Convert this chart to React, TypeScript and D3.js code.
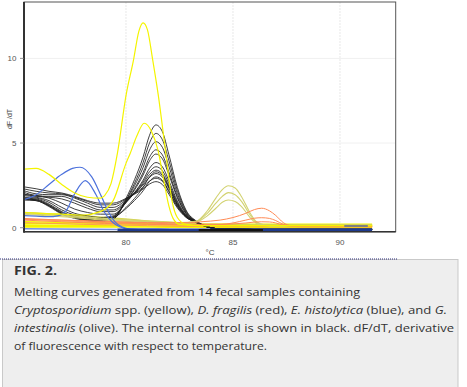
import React from 'react';
import * as d3 from 'd3';

const W = 467;
const H = 387;

const X_TICKS = [80, 85, 90];
const Y_TICKS = [0, 5, 10];

// Internal control (black)
const blackTemps = [75.2, 75.8, 76.4, 77.0, 77.6, 78.2, 78.8, 79.4, 80.0, 80.4, 80.8, 81.1, 81.4, 81.7, 82.0, 82.4, 82.8, 83.3, 83.8, 84.5, 86.0, 91.5];
const black1 = [2.42, 2.3, 2.15, 2.05, 1.85, 1.6, 1.45, 1.45, 1.73, 1.98, 2.29, 2.58, 2.72, 2.55, 1.99, 1.17, 0.61, 0.32, 0.05, -0.08, -0.1, -0.1];
const black2 = [2.3, 2.15, 2.05, 2.0, 1.8, 1.55, 1.35, 1.35, 1.7, 2.01, 2.39, 2.75, 2.92, 2.74, 2.13, 1.24, 0.64, 0.3, 0.04, -0.08, -0.1, -0.1];
const black3 = [2.2, 2.0, 1.95, 1.95, 1.75, 1.45, 1.2, 1.2, 1.64, 2.04, 2.52, 2.98, 3.2, 3.0, 2.33, 1.34, 0.68, 0.34, 0.06, -0.08, -0.1, -0.1];
const black4 = [2.1, 1.9, 1.85, 1.85, 1.6, 1.3, 1.05, 1.05, 1.57, 2.04, 2.6, 3.14, 3.4, 3.18, 2.47, 1.42, 0.7, 0.3, 0.05, -0.08, -0.1, -0.1];
const black5 = [2.0, 1.85, 1.8, 1.7, 1.45, 1.15, 0.95, 0.95, 1.53, 2.06, 2.7, 3.31, 3.6, 3.37, 2.61, 1.49, 0.73, 0.36, 0.06, -0.08, -0.1, -0.1];
const black6 = [1.9, 1.8, 1.6, 1.2, 0.85, 0.7, 0.6, 0.7, 1.5, 2.23, 3.11, 3.95, 4.35, 4.07, 3.14, 1.76, 0.83, 0.32, 0.05, -0.08, -0.1, -0.1];
const black7 = [1.8, 1.75, 1.5, 1.05, 0.75, 0.6, 0.55, 0.65, 1.52, 2.31, 3.26, 4.17, 4.6, 4.3, 3.31, 1.85, 0.86, 0.35, 0.06, -0.08, -0.1, -0.1];
const black8 = [1.75, 1.7, 1.4, 0.95, 0.65, 0.5, 0.45, 0.6, 1.59, 2.48, 3.56, 4.59, 5.08, 4.75, 3.65, 2.02, 0.92, 0.33, 0.05, -0.08, -0.1, -0.1];
const black9 = [1.7, 1.65, 1.3, 0.85, 0.6, 0.45, 0.4, 0.5, 1.62, 2.63, 3.85, 5.01, 5.57, 5.2, 3.99, 2.2, 0.99, 0.36, 0.06, -0.08, -0.1, -0.1];
const black10 = [1.65, 1.6, 1.25, 0.8, 0.55, 0.42, 0.38, 0.5, 1.73, 2.84, 4.18, 5.46, 6.07, 5.67, 4.34, 2.38, 1.05, 0.38, 0.06, -0.08, -0.1, -0.1];
const black11 = [1.7, 1.65, 1.35, 0.9, 0.6, 0.5, 0.5, 0.6, 1.19, 1.73, 2.38, 3.0, 3.3, 3.09, 2.4, 1.38, 0.69, 0.3, 0.04, -0.08, -0.1, -0.1];
const black12 = [1.65, 1.6, 1.3, 0.85, 0.6, 0.5, 0.5, 0.6, 1.13, 1.61, 2.18, 2.74, 3.0, 2.81, 2.19, 1.27, 0.65, 0.28, 0.04, -0.08, -0.1, -0.1];
const black13 = [1.95, 1.9, 1.75, 1.45, 1.1, 0.9, 0.8, 0.8, 1.47, 2.08, 2.81, 3.51, 3.85, 3.6, 2.79, 1.58, 0.76, 0.34, 0.05, -0.08, -0.1, -0.1];

// Cryptosporidium (yellow)
const yellowBigTemps = [75.2, 75.8, 76.4, 77.0, 77.6, 78.2, 78.8, 79.0, 79.3, 79.6, 80.0, 80.35, 80.6, 80.8, 81.0, 81.25, 81.5, 81.85, 82.15, 82.4, 82.8, 83.5, 91.5];
const yellowBig = [3.45, 3.5, 3.15, 2.55, 2.05, 1.8, 1.75, 1.9, 2.6, 4.4, 7.8, 9.9, 11.6, 12.1, 11.7, 9.9, 7.9, 4.5, 1.6, 0.6, 0.2, 0.12, 0.12];
const yellowMidTemps = [75.2, 76.0, 77.0, 78.0, 78.8, 79.4, 80.0, 80.2, 80.5, 80.85, 81.2, 81.5, 81.75, 82.0, 82.2, 82.5, 83.5, 91.5];
const yellowMid = [0.9, 0.85, 0.8, 0.75, 0.95, 1.6, 3.8, 4.4, 5.4, 6.17, 5.67, 4.55, 2.9, 1.3, 0.55, 0.2, 0.12, 0.12];

// Flat baselines
const flatTemps = [75.2, 78.0, 81.0, 84.0, 87.0, 91.5];
const yellowFlat1 = [0.35, 0.3, 0.25, 0.2, 0.2, 0.2];
const yellowFlat2 = [0.25, 0.22, 0.2, 0.16, 0.15, 0.15];
const yellowFlat3 = [0.15, 0.12, 0.1, 0.08, 0.08, 0.08];
const yellowFlat4 = [0.05, 0.05, 0.04, 0.03, 0.03, 0.03];
const yellowFlat5 = [0.9, 0.7, 0.4, 0.2, 0.17, 0.17];
const orangeFlat1 = [0.5, 0.35, 0.22, 0.15, 0.1, 0.1];
const orangeFlat2 = [0.3, 0.2, 0.12, 0.06, 0.05, 0.05];

// E. histolytica (blue)
const blue1Temps = [75.2, 75.8, 76.4, 77.0, 77.5, 77.85, 78.4, 78.85, 79.2, 79.5, 79.8, 80.2, 81.5, 84.0, 91.5];
const blue1 = [1.65, 1.95, 2.55, 3.15, 3.5, 3.57, 3.0, 1.85, 0.9, 0.33, 0.05, -0.08, -0.1, -0.12, -0.12];
const blue2Temps = [75.2, 75.8, 76.4, 76.8, 77.2, 77.6, 78.1, 78.6, 79.0, 79.35, 79.7, 80.2, 81.5, 84.0, 91.5];
const blue2 = [0.72, 0.68, 0.65, 0.7, 1.0, 2.0, 2.78, 1.95, 0.9, 0.35, 0.06, -0.08, -0.1, -0.12, -0.12];

// G. intestinalis (olive)
const oliveTemps = [75.2, 77.0, 79.0, 81.0, 82.5, 83.3, 83.8, 84.2, 84.5, 84.78, 85.1, 85.4, 85.8, 86.1, 86.5, 87.0, 91.5];
const olive1 = [0.9, 0.75, 0.55, 0.4, 0.3, 0.4, 1.0, 1.75, 2.25, 2.48, 2.35, 1.83, 0.87, 0.35, 0.15, 0.1, 0.1];
const olive2 = [0.85, 0.7, 0.5, 0.35, 0.28, 0.38, 0.85, 1.45, 1.85, 2.07, 1.95, 1.55, 0.75, 0.3, 0.13, 0.1, 0.1];
const olive3 = [0.8, 0.65, 0.45, 0.32, 0.25, 0.35, 0.7, 1.15, 1.5, 1.64, 1.55, 1.25, 0.6, 0.25, 0.12, 0.1, 0.1];

// D. fragilis (red/orange)
const orangeTemps = [75.2, 77.0, 79.0, 81.0, 83.0, 83.5, 84.4, 85.0, 85.6, 86.0, 86.34, 86.7, 87.0, 87.35, 87.7, 88.2, 91.5];
const orange1 = [0.5, 0.45, 0.38, 0.3, 0.3, 0.35, 0.45, 0.6, 0.85, 1.07, 1.15, 1.0, 0.72, 0.3, 0.12, 0.08, 0.08];
const orange2 = [0.45, 0.35, 0.25, 0.2, 0.15, 0.15, 0.18, 0.28, 0.45, 0.56, 0.59, 0.55, 0.42, 0.2, 0.1, 0.07, 0.07];
const orange3 = [0.55, 0.45, 0.35, 0.28, 0.2, 0.2, 0.2, 0.22, 0.28, 0.33, 0.35, 0.34, 0.28, 0.15, 0.08, 0.06, 0.06];

// Bottom traces
const navyTemps = [79.6, 91.5];
const navyVals = [-0.12, -0.12];
const lightBlueTemps = [75.2, 79.6];
const lightBlueVals = [-0.06, -0.1];
const blackBaseTemps = [83.4, 86.4];
const blackBaseVals = [-0.13, -0.13];
const grayTemps = [90.2, 91.3];
const grayVals = [0.1, 0.1];

const blackSeries = [black1, black2, black3, black4, black5, black6, black7, black8, black9, black10, black11, black12, black13];

const captionTitle = 'FIG. 2.';
const captionLines = [
  [{ t: 'Melting curves generated from 14 fecal samples containing', i: false }],
  [
    { t: 'Cryptosporidium', i: true },
    { t: ' spp. (yellow), ', i: false },
    { t: 'D. fragilis', i: true },
    { t: ' (red), ', i: false },
    { t: 'E. histolytica', i: true },
    { t: ' (blue), and ', i: false },
    { t: 'G.', i: true },
  ],
  [
    { t: 'intestinalis', i: true },
    { t: ' (olive). The internal control is shown in black. dF/dT, derivative', i: false },
  ],
  [{ t: 'of fluorescence with respect to temperature.', i: false }],
];
const captionWidths = [346, 433, 440, 253];

export default function App() {
  const x = d3.scaleLinear().domain([75.234, 92.603]).range([24, 395.7]);
  const y = d3.scaleLinear().domain([-0.236, 13.33]).range([231.7, 2]);
  const path = (temps: number[], vals: number[]) =>
    d3
      .line<number>()
      .x((_, i) => x(temps[i]))
      .y((v) => y(v))
      .curve(d3.curveMonotoneX)(vals) || '';

  const left = 24, right = 395.7, top = 2, bottom = 231.7;

  const yellow = '#f4f400';
  const olive = '#d2d270';
  const orange = '#ff8a55';
  const blue = '#4d72dc';

  return (
    <svg width={W} height={H} style={{ position: 'absolute', left: 0, top: 0, background: '#fff' }}>
      <defs>
        <clipPath id="plotclip">
          <rect x={left} y={top} width={right - left} height={bottom - top} />
        </clipPath>
      </defs>
      {/* grid */}
      {X_TICKS.map((t) => (
        <line key={'gx' + t} x1={x(t)} x2={x(t)} y1={top} y2={bottom} stroke="#e8e8e8" strokeWidth={1} strokeDasharray="2,1" />
      ))}
      {Y_TICKS.filter((t) => t > 0).map((t) => (
        <line key={'gy' + t} x1={left} x2={right} y1={y(t)} y2={y(t)} stroke="#f0f0f0" strokeWidth={1} />
      ))}
      <g clipPath="url(#plotclip)" fill="none" strokeLinejoin="round">
        {[yellowFlat1, yellowFlat2, yellowFlat3, yellowFlat4].map((s, k) => (
          <path key={'yf' + k} d={path(flatTemps, s)} stroke={yellow} strokeWidth={1.6} />
        ))}
        <path d={path(flatTemps, yellowFlat5)} stroke="#d8d84a" strokeWidth={1.6} />
        {[orangeFlat1, orangeFlat2].map((s, k) => (
          <path key={'of' + k} d={path(flatTemps, s)} stroke={orange} strokeWidth={1} opacity={0.8} />
        ))}
        {blackSeries.map((s, k) => (
          <path key={'b' + k} d={path(blackTemps, s)} stroke="#1e1e1e" strokeWidth={1} opacity={0.85} />
        ))}
        {[olive1, olive2, olive3].map((s, k) => (
          <path key={'o' + k} d={path(oliveTemps, s)} stroke={olive} strokeWidth={1.1} />
        ))}
        {[orange1, orange2, orange3].map((s, k) => (
          <path key={'r' + k} d={path(orangeTemps, s)} stroke={orange} strokeWidth={1} />
        ))}
        <path d={path(blue1Temps, blue1)} stroke={blue} strokeWidth={1.2} />
        <path d={path(blue2Temps, blue2)} stroke={blue} strokeWidth={1.2} />
        <path d={path(yellowMidTemps, yellowMid)} stroke={yellow} strokeWidth={1.2} />
        <path d={path(yellowBigTemps, yellowBig)} stroke={yellow} strokeWidth={1.2} />
        <path d={path(lightBlueTemps, lightBlueVals)} stroke="#6f8fe0" strokeWidth={1.5} />
        <path d={path(navyTemps, navyVals)} stroke="#1d3a8f" strokeWidth={2.4} />
        <path d={path(blackBaseTemps, blackBaseVals)} stroke="#111" strokeWidth={2} />
        <path d={path(grayTemps, grayVals)} stroke="#808080" strokeWidth={2} />
      </g>
      {/* frame */}
      <rect x={left} y={top} width={right - left} height={bottom - top} fill="none" stroke="#555" strokeWidth={1} />
      <line x1={left} x2={left} y1={top} y2={bottom + 1} stroke="#333" strokeWidth={2} />
      <line x1={left} x2={right} y1={bottom} y2={bottom} stroke="#333" strokeWidth={1.6} />
      {/* y ticks */}
      {Y_TICKS.map((t) => (
        <g key={'yt' + t}>
          <line x1={left - 4} x2={left} y1={y(t)} y2={y(t)} stroke="#777" strokeWidth={0.8} />
          <text x={16.5} y={y(t) + 3} textAnchor="end" fontSize={8} fontFamily="Liberation Sans, Arial, sans-serif" fill="#555">
            {t}
          </text>
        </g>
      ))}
      {X_TICKS.map((t) => (
        <text key={'xt' + t} x={x(t)} y={245} textAnchor="middle" fontSize={8} fontFamily="Liberation Sans, Arial, sans-serif" fill="#555">
          {t}
        </text>
      ))}
      <text transform="translate(11.5,119) rotate(-90)" textAnchor="middle" fontSize={7} fontFamily="Liberation Sans, Arial, sans-serif" fill="#444">
        dF /dT
      </text>
      <text x={210} y={255} textAnchor="middle" fontSize={8} fontFamily="Liberation Sans, Arial, sans-serif" fill="#444">
        °C
      </text>
      {/* caption box */}
      <rect x={2.5} y={259.5} width={455.5} height={140} fill="#eeeeee" stroke="#c9c9c9" strokeWidth={1} />
      <line x1={0} x2={397} y1={259} y2={259} stroke="#2a2a7a" strokeWidth={1} strokeDasharray="1,1" />
      <text x={14} y={275} fontSize={11.5} fontWeight="bold" fontFamily="Open Sans, DejaVu Sans, sans-serif" fill="#333" textLength={43} lengthAdjust="spacingAndGlyphs">
        {captionTitle}
      </text>
      {captionLines.map((ln, k) => (
        <text
          key={'cap' + k}
          x={14}
          y={296 + k * 18}
          fontSize={11.5}
          fontFamily="Open Sans, DejaVu Sans, sans-serif"
          fill="#333"
          textLength={captionWidths[k]}
          lengthAdjust="spacingAndGlyphs"
        >
          {ln.map((seg, j) => (
            <tspan key={j} fontStyle={seg.i ? 'italic' : 'normal'}>
              {seg.t}
            </tspan>
          ))}
        </text>
      ))}
    </svg>
  );
}
